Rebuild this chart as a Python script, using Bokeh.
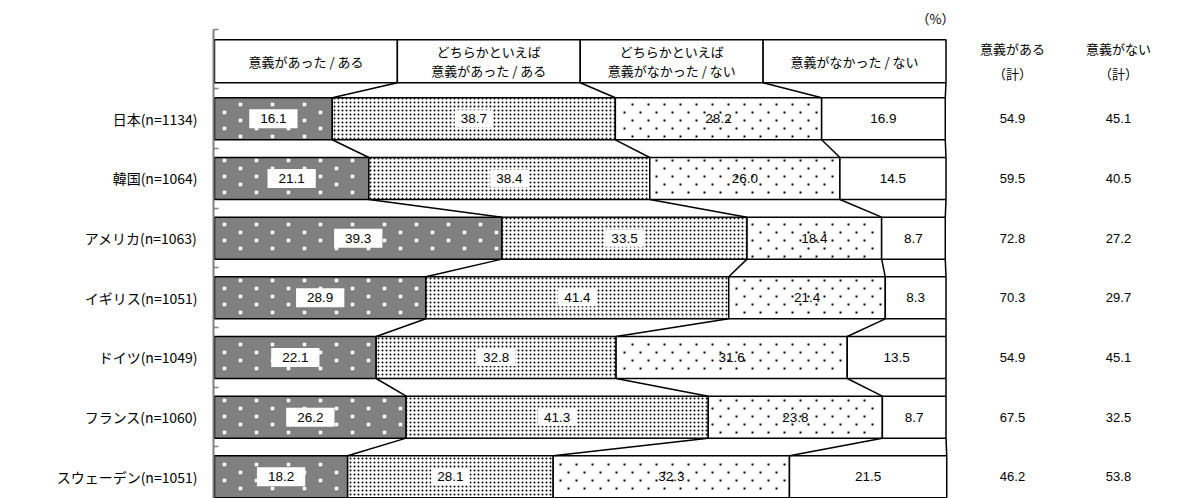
import numpy as np
from bokeh.plotting import figure
from bokeh.models import Range1d, FixedTicker, ColumnDataSource
from bokeh.core.properties import value
from bokeh.embed import file_html
from bokeh.resources import INLINE

# ---------------- data ----------------
countries = ["日本(n=1134)", "韓国(n=1064)", "アメリカ(n=1063)", "イギリス(n=1051)",
             "ドイツ(n=1049)", "フランス(n=1060)", "スウェーデン(n=1051)"]
categories = ["意義があった / ある", "どちらかといえば\n意義があった / ある",
              "どちらかといえば\n意義がなかった / ない", "意義がなかった / ない"]
had = [16.1, 21.1, 39.3, 28.9, 22.1, 26.2, 18.2]
rather_had = [38.7, 38.4, 33.5, 41.4, 32.8, 41.3, 28.1]
rather_not = [28.2, 26.0, 18.4, 21.4, 31.6, 23.8, 32.3]
not_had = [16.9, 14.5, 8.7, 8.3, 13.5, 8.7, 21.5]
total_yes = [54.9, 59.5, 72.8, 70.3, 54.9, 67.5, 46.2]
total_no = [45.1, 40.5, 27.2, 29.7, 45.1, 32.5, 53.8]
summary_headers = ["意義がある\n（計）", "意義がない\n（計）"]
unit_label = "（%）"

# ---------------- layout ----------------
W, H = 1177, 498
FRAME_LEFT = 213
AXIS_TOP = 29
PX_PER = 7.315          # pixels per percent
X0_PX = 214
ROW_PITCH = 59.67
FIRST_CENTER = 118.3
BAR_PX = 42
BAR_H = BAR_PX / ROW_PITCH
HEADER_Y = 1 - 57.5 / ROW_PITCH
HEADER_H = 43 / ROW_PITCH

x_start = (FRAME_LEFT - X0_PX) / PX_PER
x_end = x_start + (W - FRAME_LEFT) / PX_PER

def xpx(px):
    return (np.asarray(px) - X0_PX) / PX_PER

def ypx(px):
    return (np.asarray(px) - FIRST_CENTER) / ROW_PITCH + 1

p = figure(width=W, height=H, output_backend="svg", toolbar_location=None,
           x_range=Range1d(x_start, x_end), y_range=Range1d(float(ypx(H)), float(ypx(0))),
           x_axis_location=None, min_border_left=FRAME_LEFT, min_border_right=0,
           min_border_top=0, min_border_bottom=0)
p.outline_line_color = None
p.xgrid.visible = False
p.ygrid.visible = False
p.background_fill_color = "white"
p.border_fill_color = "white"

rows = np.arange(1, len(countries) + 1)
series = [had, rather_had, rather_not, not_had]
vals = np.array(series, dtype=float).T          # rows x 4
cum = np.cumsum(vals, axis=1)
lefts = np.hstack([np.zeros((len(rows), 1)), cum[:, :-1]])

styles = [
    dict(fill_color="#808080"),
    dict(fill_color="white", hatch_pattern="dot", hatch_color="black", hatch_scale=4),
    dict(fill_color="white"),
    dict(fill_color="white"),
]

for k in range(4):
    src = ColumnDataSource(dict(y=rows, left=lefts[:, k], right=cum[:, k]))
    p.hbar(y="y", left="left", right="right", height=BAR_H, source=src,
           line_color="black", line_width=1.5, **styles[k])

# staggered dot textures computed from each bar's pixel extent
def texture(k, dx, dy, margin):
    xs, ys = [], []
    for i, r in enumerate(rows):
        l_px = X0_PX + lefts[i, k] * PX_PER + margin
        r_px = X0_PX + cum[i, k] * PX_PER - margin
        c_px = FIRST_CENTER + (r - 1) * ROW_PITCH
        t_px = c_px - BAR_PX / 2 + margin
        b_px = c_px + BAR_PX / 2 - margin
        for yy in np.arange(np.ceil(t_px / dy) * dy, b_px, dy):
            odd = int(round(yy / dy)) % 2
            start = np.ceil((l_px - odd * dx) / (2 * dx)) * 2 * dx + odd * dx
            for xx in np.arange(start, r_px, 2 * dx):
                xs.append(xx); ys.append(yy)
    return xpx(xs), ypx(ys)

tx, ty = texture(0, 16, 8, 3)
p.scatter(x=tx, y=ty, marker="square", size=3.5, fill_color="white", line_color=None)
tx, ty = texture(2, 8, 8, 2.5)
p.scatter(x=tx, y=ty, marker="square", size=2, fill_color="black", line_color=None)

# header boxes
hb = ColumnDataSource(dict(left=[0, 25, 50, 75], right=[25, 50, 75, 100],
                           y=[HEADER_Y] * 4, cx=[12.5, 37.5, 62.5, 87.5], t=categories))
p.hbar(y="y", left="left", right="right", height=HEADER_H, source=hb,
       fill_color="white", line_color="black", line_width=1.5)
p.text(x="cx", y="y", text="t", source=hb, text_align="center", text_baseline="middle",
       text_font=value("Noto Sans CJK JP"), text_font_size="13px", text_color="black",
       text_line_height=1.0)

# connector (series) lines
x0s, y0s, x1s, y1s = [], [], [], []
for k in range(4):
    x0s.append((k + 1) * 25); y0s.append(HEADER_Y + HEADER_H / 2)
    x1s.append(cum[0, k]); y1s.append(1 - BAR_H / 2)
for i in range(len(rows) - 1):
    for k in range(4):
        x0s.append(cum[i, k]); y0s.append(rows[i] + BAR_H / 2)
        x1s.append(cum[i + 1, k]); y1s.append(rows[i + 1] - BAR_H / 2)
p.segment(x0=x0s, y0=y0s, x1=x1s, y1=y1s, line_color="black", line_width=1.5)

# value labels inside bars
for k in range(4):
    centers = (lefts[:, k] + cum[:, k]) / 2
    labels = [f"{v:.1f}" for v in vals[:, k]]
    src = ColumnDataSource(dict(x=centers, y=rows, t=labels))
    extra = {}
    if k == 0:
        extra = dict(background_fill_color="white", padding=[11, 5])
    elif k == 1:
        extra = dict(background_fill_color="white", padding=[6, 4])
    p.text(x="x", y="y", text="t", source=src, text_align="center", text_baseline="middle",
           text_font=value("Liberation Sans"), text_font_size="13.5px", text_color="black",
           **extra)

# summary columns
sum_x = [float(xpx(1012)), float(xpx(1118))]
p.text(x=sum_x, y=[HEADER_Y] * 2, text=summary_headers, text_align="center",
       text_baseline="middle", text_font=value("Noto Sans CJK JP"), text_font_size="13px",
       text_color="black", text_line_height=1.33)
for j, col in enumerate([total_yes, total_no]):
    p.text(x=[sum_x[j]] * len(rows), y=rows, text=[f"{v:.1f}" for v in col],
           text_align="center", text_baseline="middle", text_font=value("Liberation Sans"),
           text_font_size="13px", text_color="black")

p.text(x=[float(xpx(935))], y=[float(ypx(18))], text=[unit_label], text_align="center",
       text_baseline="middle", text_font=value("Noto Sans CJK JP"),
       text_font_size="13px", text_color="black")

# left axis
yax = p.yaxis[0]
yax.bounds = (float(ypx(AXIS_TOP)), float(ypx(H + 20)))
yax.ticker = FixedTicker(ticks=list(rows), minor_ticks=[r - 0.5 for r in range(0, len(rows) + 1)])
yax.major_label_overrides = {int(r): c for r, c in zip(rows, countries)}
yax.axis_line_color = "#808080"
yax.axis_line_width = 2
yax.major_tick_in = 0
yax.major_tick_out = 0
yax.minor_tick_in = 5
yax.minor_tick_out = 0
yax.minor_tick_line_color = "#808080"
yax.minor_tick_line_width = 1.5
yax.major_label_text_font = "Noto Sans CJK JP"
yax.major_label_text_font_size = "14px"
yax.major_label_text_color = "black"
yax.major_label_standoff = 16

open("out.html", "w").write(file_html(p, INLINE))
